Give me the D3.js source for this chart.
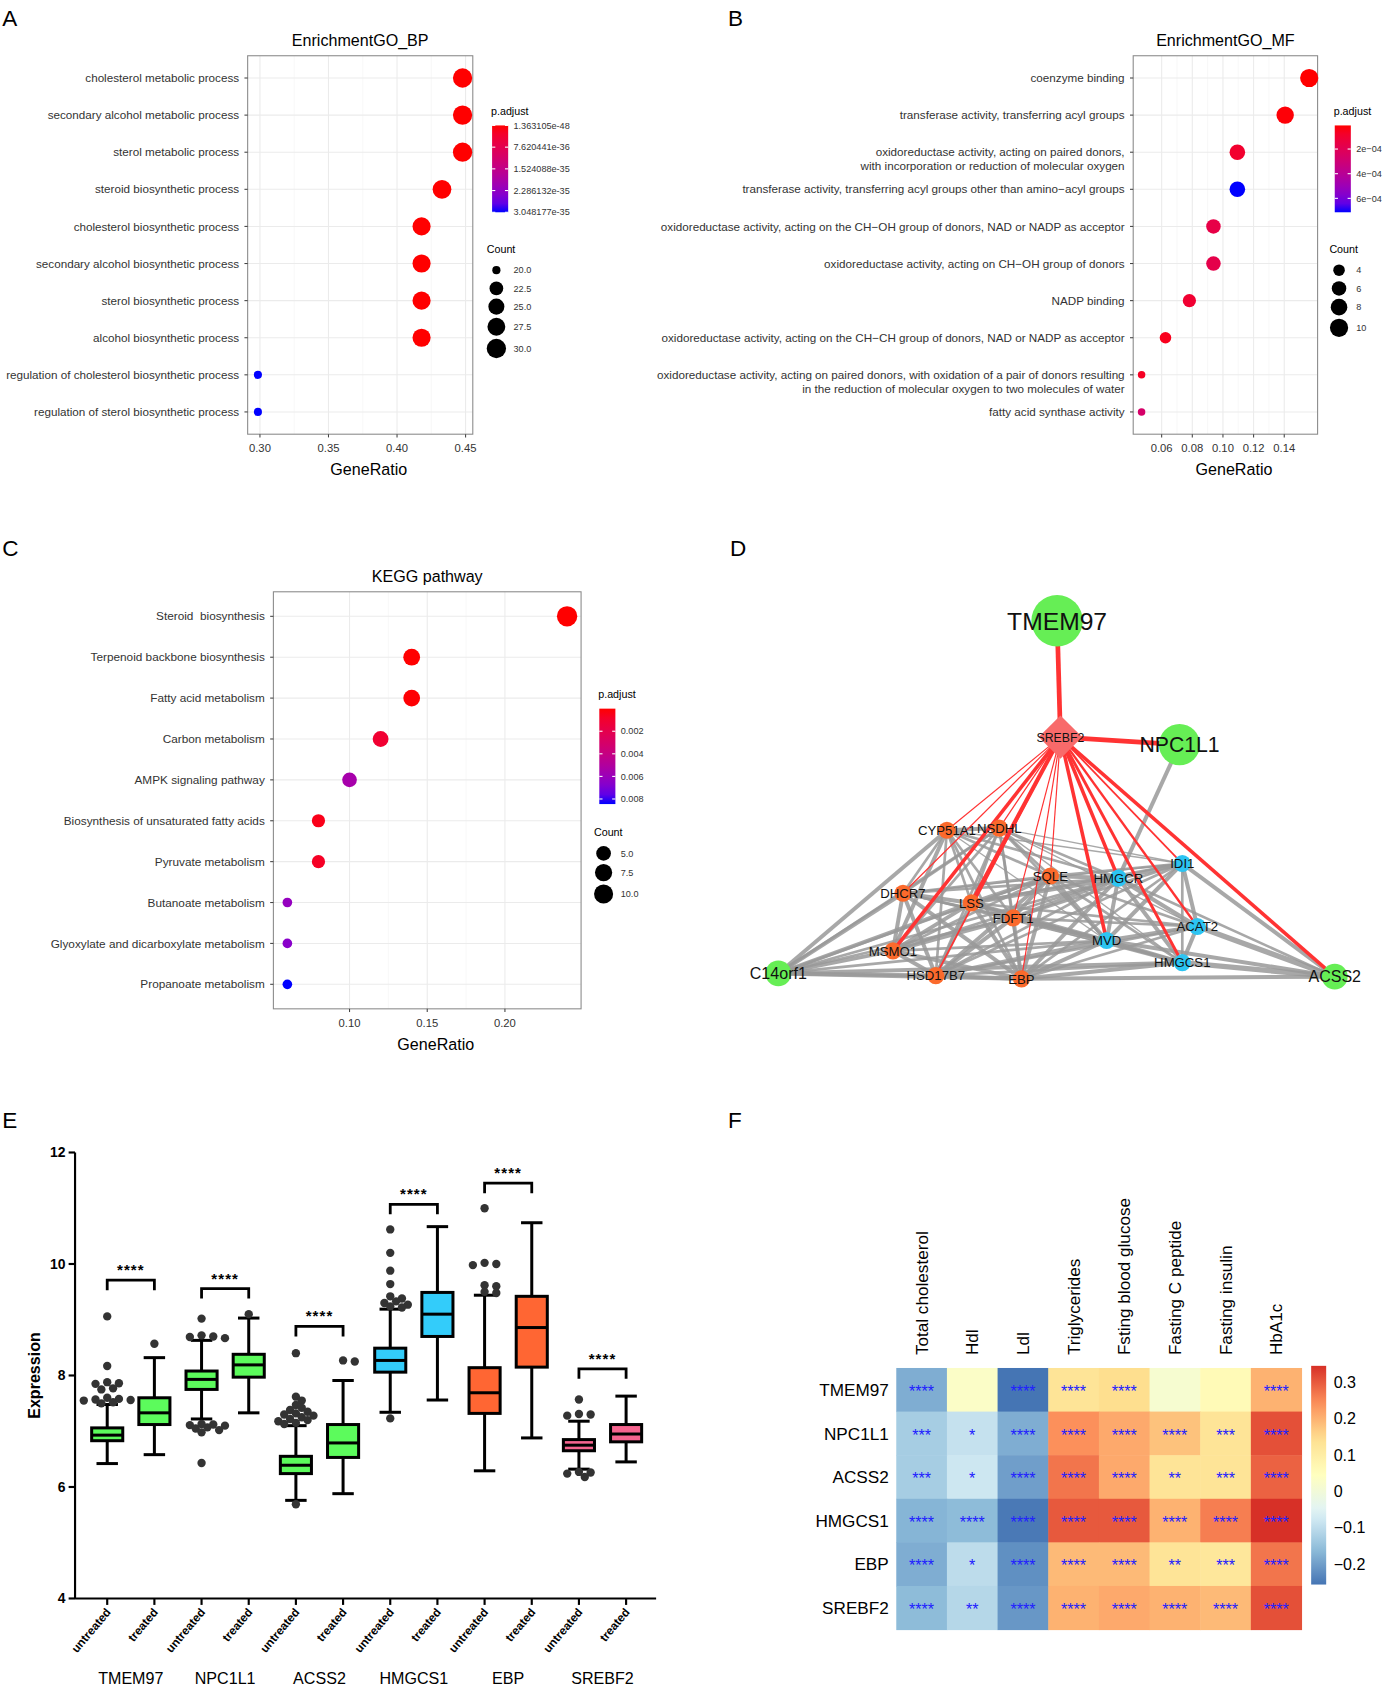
<!DOCTYPE html>
<html><head><meta charset="utf-8">
<script src="https://cdn.jsdelivr.net/npm/d3@7"></script>
<style>
body{margin:0;background:#fff}
svg{display:block}
text{font-family:"Liberation Sans",Arial,sans-serif}
</style></head><body>
<svg id="fig" width="1383" height="1688" viewBox="0 0 1290 1574.5"></svg>
<script>
// ---------- A: GO BP
const bpTerms = ['cholesterol metabolic process','secondary alcohol metabolic process','sterol metabolic process','steroid biosynthetic process','cholesterol biosynthetic process','secondary alcohol biosynthetic process','sterol biosynthetic process','alcohol biosynthetic process','regulation of cholesterol biosynthetic process','regulation of sterol biosynthetic process']
const bpRatio = [0.4478, 0.4478, 0.4478, 0.4328, 0.4179, 0.4179, 0.4179, 0.4179, 0.2985, 0.2985]
const bpCount = [30, 30, 30, 29, 28, 28, 28, 28, 20, 20]
const bpPadj = [1.363105e-48, 2.2e-48, 4.1e-47, 6.3e-45, 9.6e-43, 9.6e-43, 9.6e-43, 2.4e-42, 3.048177e-35, 3.048177e-35]
const bpPadjTicks = ['1.363105e-48','7.620441e-36','1.524088e-35','2.286132e-35','3.048177e-35']
const bpCountTicks = [20, 22.5, 25, 27.5, 30]
const bpXTicks = [0.30, 0.35, 0.40, 0.45]

// ---------- B: GO MF
const mfTerms = ['coenzyme binding','transferase activity, transferring acyl groups','oxidoreductase activity, acting on paired donors,\nwith incorporation or reduction of molecular oxygen','transferase activity, transferring acyl groups other than amino\u2212acyl groups','oxidoreductase activity, acting on the CH\u2212OH group of donors, NAD or NADP as acceptor','oxidoreductase activity, acting on CH\u2212OH group of donors','NADP binding','oxidoreductase activity, acting on the CH\u2212CH group of donors, NAD or NADP as acceptor','oxidoreductase activity, acting on paired donors, with oxidation of a pair of donors resulting\nin the reduction of molecular oxygen to two molecules of water','fatty acid synthase activity']
const mfRatio = [0.1563, 0.1406, 0.1094, 0.1094, 0.0938, 0.0938, 0.0781, 0.0625, 0.0469, 0.0469]
const mfCount = [10, 9, 7, 7, 6, 6, 5, 4, 3, 3]
const mfPadj = [8.5e-6, 1.6e-5, 9.0e-5, 7.13e-4, 1.6e-4, 1.7e-4, 1.0e-4, 5.0e-5, 6.5e-5, 2.6e-4]
const mfPadjTicks = [2e-4, 4e-4, 6e-4]
const mfCountTicks = [4, 6, 8, 10]
const mfXTicks = [0.06, 0.08, 0.10, 0.12, 0.14]

// ---------- C: KEGG
const keggTerms = ['Steroid  biosynthesis','Terpenoid backbone biosynthesis','Fatty acid metabolism','Carbon metabolism','AMPK signaling pathway','Biosynthesis of unsaturated fatty acids','Pyruvate metabolism','Butanoate metabolism','Glyoxylate and dicarboxylate metabolism','Propanoate metabolism']
const keggRatio = [0.24, 0.14, 0.14, 0.12, 0.10, 0.08, 0.08, 0.06, 0.06, 0.06]
const keggCount = [12, 7, 7, 6, 5, 4, 4, 3, 3, 3]
const keggPadj = [3.5e-9, 2.0e-5, 6.0e-5, 1.1e-3, 5.5e-3, 4.0e-4, 7.0e-4, 6.2e-3, 6.6e-3, 8.45e-3]
const keggPadjTicks = [0.002, 0.004, 0.006, 0.008]
const keggCountTicks = [5, 7.5, 10]
const keggXTicks = [0.10, 0.15, 0.20]

// ---------- D: network (layout units 0-100)
const netNames = ['TMEM97','SREBF2','NPC1L1','CYP51A1','NSDHL','DHCR7','LSS','SQLE','FDFT1','HMGCR','IDI1','ACAT2','MVD','HMGCS1','MSMO1','HSD17B7','EBP','C14orf1','ACSS2']
const netKind = ['query','hub','query','up','up','up','up','up','up','down','down','down','down','down','up','up','up','query','query']
const netScore = [4, 3.3, 3.1, 1, 1, 1, 1, 1, 1, 1, 1, 1, 1, 1, 1, 1, 1, 1.75, 1.75]
const netX = [50.1, 50.7, 72.1, 30.3, 39.7, 22.4, 34.7, 48.9, 42.2, 61.1, 72.6, 75.3, 59.0, 72.6, 20.6, 28.3, 43.7, 0, 100]
const netY = [0, 32.5, 34.6, 58.5, 57.9, 76.1, 78.8, 71.3, 83.0, 71.9, 67.8, 85.4, 89.3, 95.5, 92.2, 99.1, 100, 98.5, 99.4]
const netLinks = [
 ['CYP51A1','NSDHL',3],['CYP51A1','DHCR7',2],['CYP51A1','LSS',2],['CYP51A1','SQLE',2],['CYP51A1','FDFT1',2],['CYP51A1','HMGCR',2],['CYP51A1','IDI1',1],['CYP51A1','MVD',1],['CYP51A1','MSMO1',3],['CYP51A1','HSD17B7',2],['CYP51A1','EBP',2],['CYP51A1','C14orf1',3],
 ['NSDHL','DHCR7',2],['NSDHL','LSS',2],['NSDHL','SQLE',2],['NSDHL','FDFT1',2],['NSDHL','HMGCR',2],['NSDHL','IDI1',1],['NSDHL','ACAT2',1],['NSDHL','MVD',2],['NSDHL','HMGCS1',1],['NSDHL','MSMO1',2],['NSDHL','HSD17B7',2],['NSDHL','EBP',2],['NSDHL','C14orf1',2],
 ['DHCR7','LSS',3],['DHCR7','SQLE',2],['DHCR7','FDFT1',2],['DHCR7','HMGCR',2],['DHCR7','MVD',2],['DHCR7','MSMO1',3],['DHCR7','HSD17B7',3],['DHCR7','EBP',3],['DHCR7','C14orf1',3],['DHCR7','IDI1',1],['DHCR7','HMGCS1',1],
 ['LSS','SQLE',3],['LSS','FDFT1',3],['LSS','HMGCR',3],['LSS','IDI1',2],['LSS','ACAT2',2],['LSS','MVD',3],['LSS','HMGCS1',2],['LSS','MSMO1',3],['LSS','HSD17B7',3],['LSS','EBP',3],['LSS','C14orf1',3],
 ['SQLE','FDFT1',3],['SQLE','HMGCR',3],['SQLE','IDI1',2],['SQLE','ACAT2',2],['SQLE','MVD',3],['SQLE','HMGCS1',2],['SQLE','MSMO1',2],['SQLE','HSD17B7',3],['SQLE','EBP',3],['SQLE','C14orf1',2],
 ['FDFT1','HMGCR',3],['FDFT1','IDI1',2],['FDFT1','ACAT2',2],['FDFT1','MVD',3],['FDFT1','HMGCS1',3],['FDFT1','MSMO1',3],['FDFT1','HSD17B7',3],['FDFT1','EBP',3],['FDFT1','C14orf1',2],
 ['HMGCR','IDI1',3],['HMGCR','ACAT2',3],['HMGCR','MVD',3],['HMGCR','HMGCS1',3],['HMGCR','MSMO1',2],['HMGCR','HSD17B7',2],['HMGCR','EBP',3],['HMGCR','C14orf1',2],['HMGCR','NPC1L1',3],['HMGCR','ACSS2',2],
 ['IDI1','ACAT2',3],['IDI1','MVD',3],['IDI1','HMGCS1',2],['IDI1','HSD17B7',2],['IDI1','EBP',2],['IDI1','ACSS2',3],
 ['ACAT2','MVD',3],['ACAT2','HMGCS1',3],['ACAT2','HSD17B7',2],['ACAT2','EBP',2],['ACAT2','ACSS2',4],
 ['MVD','HMGCS1',3],['MVD','MSMO1',2],['MVD','HSD17B7',3],['MVD','EBP',3],['MVD','C14orf1',2],['MVD','ACSS2',3],
 ['HMGCS1','HSD17B7',2],['HMGCS1','EBP',3],['HMGCS1','ACSS2',4],['HMGCS1','C14orf1',3],
 ['MSMO1','HSD17B7',3],['MSMO1','EBP',3],['MSMO1','C14orf1',3],
 ['HSD17B7','EBP',3],['HSD17B7','C14orf1',3],['EBP','C14orf1',3],['EBP','ACSS2',3]
]
const srebfLinks = [['TMEM97',4],['NPC1L1',4],['CYP51A1',1],['NSDHL',1],['DHCR7',1],['LSS',3.5],['SQLE',1],['FDFT1',1],['HMGCR',3],['IDI1',1.5],['ACAT2',2],['MVD',3],['HMGCS1',2.5],['MSMO1',3],['HSD17B7',1.5],['EBP',1],['ACSS2',3]]

// ---------- E: boxplots
const boxGenes = ['TMEM97','NPC1L1','ACSS2','HMGCS1','EBP','SREBF2']
const boxConds = ['untreated','treated']
const boxLow  = [6.42, 6.58, 7.22, 7.33, 5.76, 5.88, 7.34, 7.56, 6.29, 6.88, 6.32, 6.45]
const boxQ1   = [6.83, 7.12, 7.75, 7.97, 6.24, 6.53, 8.06, 8.70, 7.32, 8.15, 6.65, 6.81]
const boxMed  = [6.93, 7.33, 7.93, 8.19, 6.39, 6.79, 8.27, 9.10, 7.69, 8.86, 6.75, 6.95]
const boxQ3   = [7.06, 7.60, 8.08, 8.38, 6.55, 7.12, 8.49, 9.49, 8.14, 9.42, 6.85, 7.12]
const boxHigh = [7.48, 8.32, 8.63, 9.03, 7.10, 7.91, 9.19, 10.67, 9.44, 10.74, 7.18, 7.63]
const boxOut = [
  [9.06, 8.17, 7.88, 7.86, 7.85, 7.77, 7.75, 7.6, 7.58, 7.57, 7.56, 7.55, 7.52, 7.5],
  [8.57],
  [9.02, 8.72, 8.7, 8.69, 8.67, 7.13, 7.12, 7.11, 7.1, 7.07, 7.05, 7.02, 6.98, 6.43],
  [9.1],
  [8.4, 7.62, 7.55, 7.47, 7.42, 7.38, 7.35, 7.32, 7.3, 7.28, 7.25, 7.22, 7.2, 7.18, 7.15, 7.13, 5.69],
  [8.27, 8.25],
  [10.62, 10.2, 9.88, 9.64, 9.42, 9.38, 9.33, 9.3, 9.27, 9.24, 9.22, 7.23],
  [],
  [11.0, 10.02, 10.0, 9.98, 9.62, 9.6, 9.5, 9.48],
  [],
  [7.57, 7.31, 7.3, 7.28, 6.27, 6.26, 6.24, 6.18],
  []
]
const sigTop = [9.71, 9.56, 8.88, 11.07, 11.45, 8.12]
const sigText = ['****','****','****','****','****','****']
const geneFill = {TMEM97:'#5cfb5c', NPC1L1:'#5cfb5c', ACSS2:'#5cfb5c', HMGCS1:'#33ccfa', EBP:'#ff6633', SREBF2:'#f6648f'}
const yTicksE = [4, 6, 8, 10, 12]

// ---------- F: heatmap
const heatGenes = ['TMEM97','NPC1L1','ACSS2','HMGCS1','EBP','SREBF2']
const heatTraits = ['Total cholesterol','Hdl','Ldl','Triglycerides','Fsting blood glucose','Fasting C peptide','Fasting insulin','HbA1c']
const heatValues = [
  [-0.18, 0.03, -0.256, 0.13, 0.145, 0.015, 0.06, 0.20],
  [-0.13, -0.09, -0.18, 0.24, 0.21, 0.18, 0.13, 0.31],
  [-0.13, -0.08, -0.20, 0.27, 0.21, 0.13, 0.13, 0.29],
  [-0.17, -0.16, -0.25, 0.30, 0.30, 0.20, 0.26, 0.344],
  [-0.18, -0.10, -0.22, 0.19, 0.19, 0.13, 0.12, 0.27],
  [-0.16, -0.11, -0.21, 0.20, 0.21, 0.20, 0.19, 0.31]
]
const heatStars = [
  ['****','','****','****','****','','','****'],
  ['***','*','****','****','****','****','***','****'],
  ['***','*','****','****','****','**','***','****'],
  ['****','****','****','****','****','****','****','****'],
  ['****','*','****','****','****','**','***','****'],
  ['****','**','****','****','****','****','****','****']
]
const heatTicks = [-0.2, -0.1, 0, 0.1, 0.2, 0.3]

// =====================================================================
const svg = d3.select('#fig')
let gradId = 0

function panelLetter(t, x, y){
  svg.append('text').text(t).attr('x', x).attr('y', y)
    .attr('font-family', '"Open Sans", sans-serif').attr('font-size', 21)
}

function expand(ext){ const d = (ext[1]-ext[0])*0.05; return [ext[0]-d, ext[1]+d] }

function dotPanel(o){
  const g = svg.append('g')
  const n = o.terms.length
  const x = d3.scaleLinear().domain(expand(d3.extent(o.ratio))).range([o.left, o.right])
  const y = d3.scaleLinear().domain([0.4, n + 0.6]).range([o.top, o.bottom])
  const col = d3.scaleLinear().domain(o.pDomain).range(['red','blue']).interpolate(d3.interpolateLab).clamp(true)
  const cnt = d3.extent(o.count)
  const rs = d3.scaleSqrt().domain([0, cnt[1]-cnt[0]]).range(o.rRange)
  const r = c => rs(c - cnt[0])

  g.append('rect').attr('x', o.left).attr('y', o.top)
    .attr('width', o.right-o.left).attr('height', o.bottom-o.top).attr('fill', '#fff')
  // minor grid
  const minors = d3.pairs(o.ticks).map(p => (p[0]+p[1])/2)
  g.selectAll('.minor').data(minors).enter().append('line')
    .attr('x1', d => x(d)).attr('x2', d => x(d)).attr('y1', o.top).attr('y2', o.bottom)
    .attr('stroke', '#f4f4f4').attr('stroke-width', 0.6)
  g.selectAll('.vgrid').data(o.ticks).enter().append('line')
    .attr('x1', d => x(d)).attr('x2', d => x(d)).attr('y1', o.top).attr('y2', o.bottom)
    .attr('stroke', '#ebebeb').attr('stroke-width', 1)
  g.selectAll('.hgrid').data(o.terms).enter().append('line')
    .attr('x1', o.left).attr('x2', o.right).attr('y1', (d,i) => y(i+1)).attr('y2', (d,i) => y(i+1))
    .attr('stroke', '#ebebeb').attr('stroke-width', 1)
  g.append('rect').attr('x', o.left).attr('y', o.top)
    .attr('width', o.right-o.left).attr('height', o.bottom-o.top)
    .attr('fill', 'none').attr('stroke', '#8a8a8a').attr('stroke-width', 1)

  // points
  g.selectAll('.pt').data(o.terms).enter().append('circle')
    .attr('cx', (d,i) => x(o.ratio[i])).attr('cy', (d,i) => y(i+1))
    .attr('r', (d,i) => r(o.count[i])).attr('fill', (d,i) => col(o.padj[i]))

  // y ticks + labels (extra lines of a label sit below the row)
  g.selectAll('.yt').data(o.terms).enter().append('line')
    .attr('x1', o.left-3).attr('x2', o.left).attr('y1', (d,i) => y(i+1)).attr('y2', (d,i) => y(i+1))
    .attr('stroke', '#444')
  const lab = g.selectAll('.yl').data(o.terms).enter().append('text')
    .attr('x', o.left-8).attr('y', (d,i) => y(i+1)).attr('text-anchor', 'end')
    .attr('font-size', o.labSize).attr('fill', '#333').style('white-space', 'pre')
  lab.each(function(d){
    const t = d3.select(this)
    d.split('\n').forEach((l, k) => {
      t.append('tspan').attr('x', o.left-8).attr('dy', k === 0 ? '0.35em' : '1.2em').text(l)
    })
  })
  // x ticks
  g.selectAll('.xt').data(o.ticks).enter().append('line')
    .attr('x1', d => x(d)).attr('x2', d => x(d)).attr('y1', o.bottom).attr('y2', o.bottom+3)
    .attr('stroke', '#444')
  g.selectAll('.xl').data(o.ticks).enter().append('text')
    .attr('x', d => x(d)).attr('y', o.bottom+17).attr('text-anchor', 'middle')
    .attr('font-size', 10.5).attr('fill', '#333').text(d => d3.format('.2f')(d))
  g.append('text').attr('x', (o.left+o.right)/2 + 8).attr('y', o.bottom+38).attr('text-anchor', 'middle')
    .attr('font-size', 15).text('GeneRatio')
  g.append('text').attr('x', (o.left+o.right)/2).attr('y', o.top-9).attr('text-anchor', 'middle')
    .attr('font-size', 15).text(o.title)

  // colour legend
  const L = o.legend
  g.append('text').attr('x', L.x).attr('y', L.y).attr('font-size', 10).text('p.adjust')
  const id = 'grad' + (gradId++)
  const gr = svg.append('defs').append('linearGradient').attr('id', id)
    .attr('x1', 0).attr('x2', 0).attr('y1', 0).attr('y2', 1)
  d3.range(11).forEach(k => {
    const v = o.pDomain[0] + (o.pDomain[1]-o.pDomain[0])*k/10
    gr.append('stop').attr('offset', k/10).attr('stop-color', col(v))
  })
  const by = d3.scaleLinear().domain(o.pDomain).range([L.y+10, L.y+10+L.barH])
  g.append('rect').attr('x', L.x+1).attr('y', L.y+10).attr('width', 15).attr('height', L.barH)
    .attr('fill', 'url(#' + id + ')')
  g.selectAll('.ct').data(o.pTicks).enter().append('g').each(function(d){
    const v = +d, yy = by(v)
    const t = d3.select(this)
    t.append('line').attr('x1', L.x+1).attr('x2', L.x+4).attr('y1', yy).attr('y2', yy).attr('stroke', '#fff')
    t.append('line').attr('x1', L.x+13).attr('x2', L.x+16).attr('y1', yy).attr('y2', yy).attr('stroke', '#fff')
    t.append('text').attr('x', L.x+21).attr('y', yy).attr('dy', '0.35em')
      .attr('font-size', 8.5).attr('fill', '#333').text(o.pFmt(d))
  })
  // count legend
  g.append('text').attr('x', L.x-4).attr('y', L.cy).attr('font-size', 10).text('Count')
  let yy = L.cy + 16, prev = null
  o.countTicks.forEach(c => {
    const rr = r(c)
    if (prev !== null) yy += Math.max(17, prev + rr + 3)
    g.append('circle').attr('cx', L.x+5).attr('cy', yy).attr('r', rr).attr('fill', '#000')
    g.append('text').attr('x', L.x+21).attr('y', yy).attr('dy', '0.35em')
      .attr('font-size', 8.5).attr('fill', '#333').text(o.cFmt(c))
    prev = rr
  })
}

// ---------- A
panelLetter('A', 2, 24)
dotPanel({terms: bpTerms, ratio: bpRatio, count: bpCount, padj: bpPadj, labSize: 10.9,
  left: 231, right: 441, top: 52, bottom: 405, ticks: bpXTicks, title: 'EnrichmentGO_BP',
  pDomain: [1.363105e-48, 3.048177e-35], pTicks: bpPadjTicks, pFmt: d => d,
  rRange: [3.8, 9], countTicks: bpCountTicks, cFmt: d3.format('.1f'),
  legend: {x: 458, y: 107, barH: 81, cy: 236}})

// ---------- B
panelLetter('B', 679, 24)
dotPanel({terms: mfTerms, ratio: mfRatio, count: mfCount, padj: mfPadj, labSize: 10.9,
  left: 1057, right: 1229, top: 52, bottom: 405, ticks: mfXTicks, title: 'EnrichmentGO_MF',
  pDomain: [8.5e-6, 7.13e-4], pTicks: mfPadjTicks, pFmt: d => Math.round(d*1e4) + 'e\u221204',
  rRange: [3.5, 8.5], countTicks: mfCountTicks, cFmt: d => d,
  legend: {x: 1244, y: 107, barH: 81, cy: 236}})

// ---------- C
panelLetter('C', 2, 519)
dotPanel({terms: keggTerms, ratio: keggRatio, count: keggCount, padj: keggPadj, labSize: 11,
  left: 255, right: 542, top: 552, bottom: 941, ticks: keggXTicks, title: 'KEGG pathway',
  pDomain: [3.5e-9, 8.45e-3], pTicks: keggPadjTicks, pFmt: d3.format('.3f'),
  rRange: [4.5, 9.5], countTicks: keggCountTicks, cFmt: d3.format('.1f'),
  legend: {x: 558, y: 651, barH: 89, cy: 780}})

// ---------- D network
panelLetter('D', 681, 519)
{
  const g = svg.append('g')
  const nx = d3.scaleLinear().domain([0, 100]).range([726, 1245])
  const ny = d3.scaleLinear().domain([0, 100]).range([579, 913])
  const rad = d3.scaleLinear().domain([1, 4]).range([8, 24])
  const fsz = d3.scaleLinear().domain([1, 4]).range([12.3, 23])
  const kindCol = {query: '#66ee55', hub: '#f86a6a', up: '#fb6a2c', down: '#2cc4f2'}
  const nodes = netNames.map((name, i) => ({name, kind: netKind[i], score: netScore[i], x: nx(netX[i]), y: ny(netY[i])}))
  const byName = Object.fromEntries(nodes.map(n => [n.name, n]))
  g.selectAll('.gl').data(netLinks).enter().append('line')
    .attr('x1', d => byName[d[0]].x).attr('y1', d => byName[d[0]].y)
    .attr('x2', d => byName[d[1]].x).attr('y2', d => byName[d[1]].y)
    .attr('stroke', '#999').attr('stroke-opacity', 0.85).attr('stroke-width', d => d[2]*1.25)
  const hub = byName['SREBF2']
  g.selectAll('.rl').data(srebfLinks).enter().append('line')
    .attr('x1', hub.x).attr('y1', hub.y)
    .attr('x2', d => byName[d[0]].x).attr('y2', d => byName[d[0]].y)
    .attr('stroke', '#ff3333').attr('stroke-width', d => d[1]*1.1)
  g.selectAll('.nd').data(nodes).enter().append('path')
    .attr('transform', d => `translate(${d.x},${d.y})`)
    .attr('d', d => {
      const rr = rad(d.score)
      if (d.kind === 'hub') return `M0,${-rr}L${rr},0L0,${rr}L${-rr},0Z`
      return d3.arc()({innerRadius: 0, outerRadius: rr, startAngle: 0, endAngle: 2*Math.PI})
    })
    .attr('fill', d => kindCol[d.kind])
  g.selectAll('.nl').data(nodes).enter().append('text')
    .attr('x', d => d.x).attr('y', d => d.y).attr('dy', '0.36em').attr('text-anchor', 'middle')
    .attr('font-size', d => d.kind === 'hub' ? 11.5 : fsz(d.score)).attr('fill', '#111')
    .text(d => d.name)
}

// ---------- E boxplots
panelLetter('E', 2, 1052)
{
  const g = svg.append('g')
  const keys = boxGenes.flatMap(gn => boxConds.map(c => gn + '|' + c))
  const x = d3.scalePoint().domain(keys).range([100, 584])
  const y = d3.scaleLinear().domain([4, 12]).range([1491, 1075])
  const bw = 29, cap = 20
  const axisX0 = 70
  g.append('line').attr('x1', axisX0).attr('x2', axisX0).attr('y1', y(12)).attr('y2', y(4)).attr('stroke', '#000').attr('stroke-width', 2)
  g.append('line').attr('x1', axisX0).attr('x2', 612).attr('y1', y(4)).attr('y2', y(4)).attr('stroke', '#000').attr('stroke-width', 2)
  g.selectAll('.yt').data(yTicksE).enter().append('line')
    .attr('x1', axisX0-6).attr('x2', axisX0).attr('y1', d => y(d)).attr('y2', d => y(d)).attr('stroke', '#000').attr('stroke-width', 2)
  g.selectAll('.yl').data(yTicksE).enter().append('text')
    .attr('x', axisX0-9).attr('y', d => y(d)).attr('dy', '0.35em').attr('text-anchor', 'end')
    .attr('font-size', 13).attr('font-weight', 'bold').text(d => d)
  g.append('text').attr('transform', `translate(37,${y(8)}) rotate(-90)`).attr('text-anchor', 'middle')
    .attr('font-size', 15).attr('font-weight', 'bold').text('Expression')
  g.selectAll('.xt').data(keys).enter().append('line')
    .attr('x1', d => x(d)).attr('x2', d => x(d)).attr('y1', y(4)).attr('y2', y(4)+6).attr('stroke', '#000').attr('stroke-width', 2)
  g.selectAll('.xl').data(keys).enter().append('text')
    .attr('transform', d => `translate(${x(d)+4},${y(4)+13}) rotate(-50)`).attr('text-anchor', 'end')
    .attr('font-size', 11).attr('font-weight', 'bold').text(d => d.split('|')[1])
  g.selectAll('.gn').data(boxGenes).enter().append('text')
    .attr('x', d => (x(d+'|untreated') + x(d+'|treated'))/2).attr('y', 1571).attr('text-anchor', 'middle')
    .attr('font-size', 15).text(d => d)

  keys.forEach((k, i) => {
    const cx = x(k), fill = geneFill[k.split('|')[0]]
    const b = g.append('g')
    b.append('line').attr('x1', cx).attr('x2', cx).attr('y1', y(boxLow[i])).attr('y2', y(boxHigh[i])).attr('stroke', '#000').attr('stroke-width', 2.8)
    ;[boxLow[i], boxHigh[i]].forEach(v => b.append('line').attr('x1', cx-cap/2).attr('x2', cx+cap/2)
      .attr('y1', y(v)).attr('y2', y(v)).attr('stroke', '#000').attr('stroke-width', 2.8))
    b.append('rect').attr('x', cx-bw/2).attr('y', y(boxQ3[i])).attr('width', bw).attr('height', y(boxQ1[i]) - y(boxQ3[i]))
      .attr('fill', fill).attr('stroke', '#000').attr('stroke-width', 2.8)
    b.append('line').attr('x1', cx-bw/2).attr('x2', cx+bw/2).attr('y1', y(boxMed[i])).attr('y2', y(boxMed[i])).attr('stroke', '#000').attr('stroke-width', 2.8)
    // simple swarm for outliers
    const rr = 3.9, placed = []
    boxOut[i].forEach(v => {
      const py = y(v)
      let off = 0
      for (let s = 0; s < 25; s++) {
        off = s === 0 ? 0 : (s % 2 ? 1 : -1) * Math.ceil(s/2) * rr * 1.4
        if (placed.every(p => Math.hypot(p[0]-off, p[1]-py) >= rr*1.5)) break
      }
      placed.push([off, py])
      b.append('circle').attr('cx', cx+off).attr('cy', py).attr('r', rr).attr('fill', '#333')
    })
  })
  boxGenes.forEach((gn, i) => {
    const x1 = x(gn+'|untreated'), x2 = x(gn+'|treated'), yt = y(sigTop[i]), yl = y(sigTop[i]-0.18)
    g.append('path').attr('d', `M${x1},${yl}V${yt}H${x2}V${yl}`).attr('fill', 'none').attr('stroke', '#000').attr('stroke-width', 2.6)
    g.append('text').attr('x', (x1+x2)/2).attr('y', y(sigTop[i]+0.09)).attr('text-anchor', 'middle')
      .attr('font-size', 14).attr('font-weight', 'bold').attr('letter-spacing', 1).text(sigText[i])
  })
}

// ---------- F heatmap
panelLetter('F', 679, 1052)
{
  const g = svg.append('g')
  const x = d3.scaleBand().domain(heatTraits).range([836, 1214])
  const y = d3.scaleBand().domain(heatGenes).range([1276, 1520])
  const ext = d3.extent(heatValues.flat())
  const pal = ['#4575B4','#91BFDB','#E0F3F8','#FFFFBF','#FEE090','#FC8D59','#D73027']
  const col = d3.scaleLinear().domain(d3.range(7).map(k => ext[0] + k*(ext[1]-ext[0])/6)).range(pal)
  heatGenes.forEach((gn, r) => heatTraits.forEach((tr, c) => {
    g.append('rect').attr('x', x(tr)).attr('y', y(gn)).attr('width', x.bandwidth()+0.5).attr('height', y.bandwidth()+0.5)
      .attr('fill', col(heatValues[r][c]))
    g.append('text').attr('x', x(tr)+x.bandwidth()/2).attr('y', y(gn)+y.bandwidth()/2).attr('dy', '0.45em')
      .attr('text-anchor', 'middle').attr('font-size', 15).attr('fill', '#2020ff').text(heatStars[r][c])
  }))
  g.selectAll('.rl').data(heatGenes).enter().append('text')
    .attr('x', 829).attr('y', d => y(d)+y.bandwidth()/2).attr('dy', '0.36em').attr('text-anchor', 'end')
    .attr('font-size', 16).text(d => d)
  g.selectAll('.cl').data(heatTraits).enter().append('text')
    .attr('transform', d => `translate(${x(d)+x.bandwidth()/2},${1264}) rotate(-90)`).attr('dy', '0.36em')
    .attr('font-size', 16).text(d => d)
  const by = d3.scaleLinear().domain(ext).range([1478, 1274])
  const id = 'grad' + (gradId++)
  const gr = svg.append('defs').append('linearGradient').attr('id', id).attr('x1', 0).attr('x2', 0).attr('y1', 1).attr('y2', 0)
  d3.range(21).forEach(k => gr.append('stop').attr('offset', k/20).attr('stop-color', col(ext[0] + (ext[1]-ext[0])*k/20)))
  g.append('rect').attr('x', 1223).attr('y', 1274).attr('width', 14).attr('height', 204).attr('fill', 'url(#' + id + ')')
  g.selectAll('.ht').data(heatTicks).enter().append('text')
    .attr('x', 1244).attr('y', d => by(d)).attr('dy', '0.36em').attr('font-size', 15)
    .text(d => d === 0 ? '0' : d3.format('.1f')(d).replace('-', '\u2212'))
}
</script></body></html>
